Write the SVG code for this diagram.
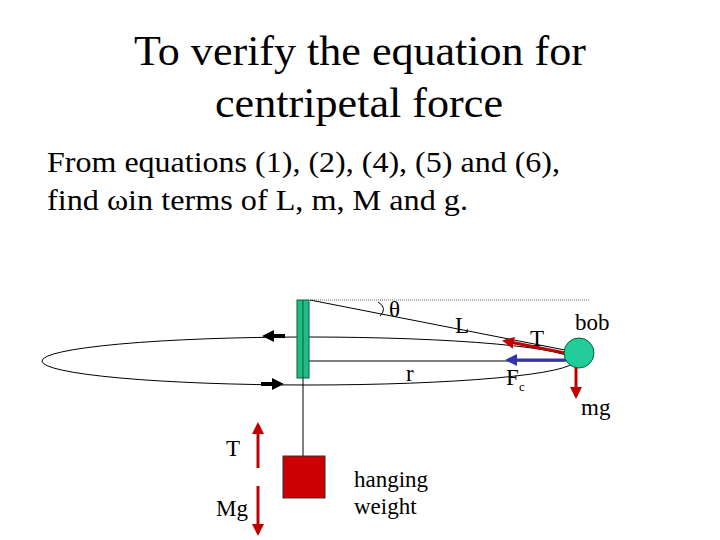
<svg xmlns="http://www.w3.org/2000/svg" width="720" height="540" viewBox="0 0 720 540">
<style>
text{font-family:"Liberation Serif",serif;fill:#000}
.t{font-size:42px;text-anchor:middle}
.b{font-size:29px}
.l{font-size:23px}
.s{font-size:23px}
</style>
<defs>
<marker id="ar" markerWidth="4" markerHeight="4" refX="3" refY="2" orient="auto" markerUnits="strokeWidth"><path d="M0,0L4,2L0,4z" fill="#c00000"/></marker>
<marker id="ab" markerWidth="4" markerHeight="4" refX="3" refY="2" orient="auto" markerUnits="strokeWidth"><path d="M0,0L4,2L0,4z" fill="#3333aa"/></marker>
<marker id="ak" markerWidth="3" markerHeight="3" refX="2" refY="1.5" orient="auto" markerUnits="strokeWidth"><path d="M0,0L3,1.5L0,3z" fill="#000"/></marker>
</defs>
<rect width="720" height="540" fill="#fff"/>
<text class="t" x="360" y="65" textLength="452" lengthAdjust="spacingAndGlyphs">To verify the equation for</text>
<text class="t" x="359" y="117" textLength="288" lengthAdjust="spacingAndGlyphs">centripetal force</text>
<text class="b" x="47" y="172" textLength="513" lengthAdjust="spacingAndGlyphs">From equations (1), (2), (4), (5) and (6),</text>
<text class="b" x="47" y="210" textLength="421" lengthAdjust="spacingAndGlyphs">find ωin terms of L, m, M and g.</text>
<g id="connectors" fill="none">
<ellipse cx="308" cy="361" rx="266" ry="24" stroke="#000" stroke-width="1"/>
<line x1="310" y1="300" x2="590" y2="300" stroke="#000" stroke-width="0.6" stroke-dasharray="1,1"/>
<line x1="310" y1="300" x2="565" y2="350" stroke="#000" stroke-width="1"/>
<path d="M378,302 Q388,308 380,316" stroke="#000" stroke-width="1"/>
<line x1="303" y1="361" x2="565" y2="361" stroke="#000" stroke-width="1"/>
<line x1="303" y1="378" x2="303" y2="456" stroke="#000" stroke-width="1"/>
<line x1="285" y1="336" x2="266" y2="336" stroke="#000" stroke-width="4" marker-end="url(#ak)"/>
<line x1="261" y1="384" x2="280" y2="384" stroke="#000" stroke-width="4" marker-end="url(#ak)"/>
<line x1="565" y1="353" x2="505" y2="341" stroke="#c00000" stroke-width="3" marker-end="url(#ar)"/>
<line x1="568" y1="360" x2="508" y2="360" stroke="#3333aa" stroke-width="3" marker-end="url(#ab)"/>
<line x1="576" y1="366" x2="576" y2="396" stroke="#c00000" stroke-width="3" marker-end="url(#ar)"/>
<line x1="258" y1="468" x2="258" y2="425" stroke="#c00000" stroke-width="3" marker-end="url(#ar)"/>
<line x1="258" y1="486" x2="258" y2="533" stroke="#c00000" stroke-width="3" marker-end="url(#ar)"/>
</g>
<g id="pole"><rect x="297" y="300" width="12" height="78" fill="#22bb88" stroke="#006633" stroke-width="1"/><line x1="303" y1="300" x2="303" y2="378" stroke="#006633" stroke-width="1"/></g>
<g id="bob"><circle cx="579" cy="353" r="15" fill="#22cc99" stroke="#006633" stroke-width="1"/></g>
<g id="weight"><rect x="283" y="456" width="42" height="42" fill="#cc0000" stroke="#333" stroke-width="1"/></g>
<g id="labels">
<text class="l" x="389" y="317">θ</text>
<text class="l" x="455" y="333">L</text>
<text class="l" x="530" y="346">T</text>
<text class="l" x="575" y="330">bob</text>
<text class="l" x="406" y="381">r</text>
<text class="l" x="506" y="385">F</text><text x="519" y="391" style="font-size:13px">c</text>
<text class="l" x="581" y="415">mg</text>
<text class="l" x="226" y="456">T</text>
<text class="l" x="216" y="516">Mg</text>
<text class="s" x="354" y="487">hanging</text>
<text class="s" x="354" y="514">weight</text>
</g>
</svg>
